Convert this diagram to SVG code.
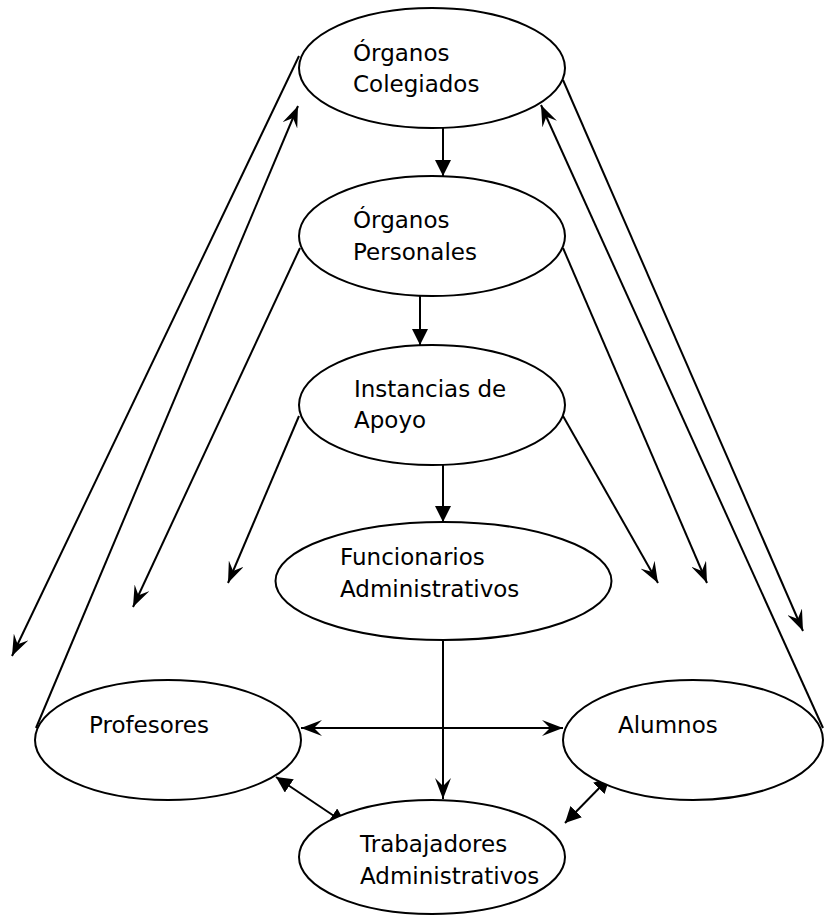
<svg xmlns="http://www.w3.org/2000/svg" width="824" height="916" viewBox="0 0 824 916">
<style>
.node ellipse{fill:#fff;stroke:#000;stroke-width:2}
.node text{font-family:"DejaVu Sans","Liberation Sans",sans-serif;font-size:23px;fill:#000}
#connectors line{stroke:#000;stroke-width:2;fill:none}
.tri{marker-end:url(#tri)}
.tri2{marker-start:url(#tri);marker-end:url(#tri)}
.barb{marker-end:url(#barb)}
.barb2{marker-start:url(#barb);marker-end:url(#barb)}
</style>
<defs>
<marker id="tri" viewBox="0 0 16 16" refX="16" refY="8" markerUnits="userSpaceOnUse" markerWidth="16" markerHeight="16" orient="auto-start-reverse"><path d="M0,0 L16,8 L0,16 Z" fill="#000"/></marker>
<marker id="barb" viewBox="0 0 21 16" refX="21" refY="8" markerUnits="userSpaceOnUse" markerWidth="21" markerHeight="16" orient="auto-start-reverse"><path d="M0,0 L21,8 L0,16 L8,8 Z" fill="#000"/></marker>
</defs>
<rect width="824" height="916" fill="#fff"/>
<g id="connectors">
<line class="tri" x1="443" y1="128" x2="443" y2="176"/>
<line class="tri" x1="420" y1="296" x2="420" y2="345"/>
<line class="tri" x1="443" y1="465" x2="443" y2="522"/>
<line class="barb" x1="443" y1="641" x2="443" y2="799"/>
<line class="barb2" x1="301" y1="728" x2="563" y2="728"/>
<line class="tri2" x1="276" y1="777" x2="346" y2="824"/>
<line class="tri2" x1="610" y1="777" x2="565" y2="823"/>
<line class="barb" x1="299" y1="56" x2="12" y2="656"/>
<line class="barb" x1="36" y1="728" x2="298" y2="106"/>
<line class="barb" x1="300" y1="248" x2="133" y2="607"/>
<line class="barb" x1="299" y1="416" x2="228" y2="583"/>
<line class="barb" x1="563" y1="416" x2="658" y2="583"/>
<line class="barb" x1="563" y1="248" x2="707" y2="583"/>
<line class="barb" x1="563" y1="80" x2="803" y2="631"/>
<line class="barb" x1="823" y1="728" x2="541" y2="105"/>
</g>
<g id="colegiados" class="node"><ellipse cx="432" cy="68" rx="133" ry="60"/><text x="353" y="61">Órganos</text><text x="353" y="92">Colegiados</text></g>
<g id="personales" class="node"><ellipse cx="432" cy="236" rx="133" ry="60"/><text x="353" y="228">Órganos</text><text x="353" y="260">Personales</text></g>
<g id="instancias" class="node"><ellipse cx="432" cy="405" rx="133" ry="60"/><text x="354" y="397">Instancias de</text><text x="354" y="428">Apoyo</text></g>
<g id="funcionarios" class="node"><ellipse cx="443.5" cy="581" rx="168" ry="59"/><text x="340" y="565">Funcionarios</text><text x="340" y="597">Administrativos</text></g>
<g id="profesores" class="node"><ellipse cx="168" cy="740" rx="133" ry="60"/><text x="89" y="733">Profesores</text></g>
<g id="alumnos" class="node"><ellipse cx="693" cy="740" rx="130" ry="60"/><text x="618" y="733">Alumnos</text></g>
<g id="trabajadores" class="node"><ellipse cx="432" cy="857" rx="133" ry="57"/><text x="360" y="852">Trabajadores</text><text x="360" y="884">Administrativos</text></g>
</svg>
